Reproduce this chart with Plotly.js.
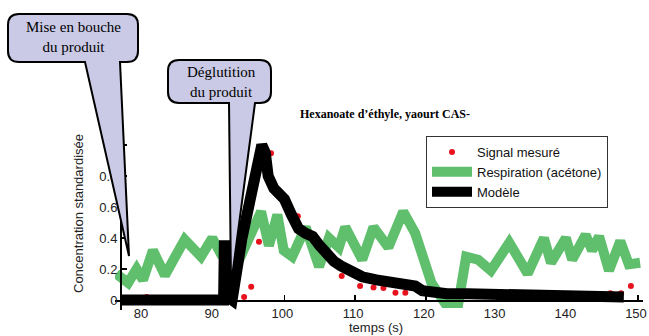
<!DOCTYPE html>
<html>
<head>
<meta charset="utf-8">
<script src="https://cdn.plot.ly/plotly-3.0.1.min.js"></script>
<style>html,body{margin:0;padding:0;background:#fff;}#chart{width:649px;height:336px;}</style>
</head>
<body>
<div id="chart"></div>
<script>
// ---- data ----
const signalX = [80.5, 94.3, 95.3, 96.4, 98.1, 101.9, 108.1, 110.7, 112.6, 114.0, 115.7, 117.1, 146.1, 147.6, 149.0];
const signalY = [0.02, 0.02, 0.086, 0.376, 0.946, 0.54, 0.155, 0.09, 0.08, 0.078, 0.047, 0.047, 0.043, 0.043, 0.09];

const respX = [76.2, 77.9, 79.1, 80.0, 81.4, 83.1, 85.9, 88.2, 89.8, 91.1, 93.4, 96.7, 97.8, 99.0, 99.9, 101.1, 103.0, 104.9, 106.3, 107.7, 108.6, 111.0, 112.6, 114.7, 116.8, 118.5, 120.8, 122.7, 124.6, 125.7, 127.4, 129.2, 131.8, 134.4, 136.7, 137.7, 139.8, 140.7, 142.6, 143.5, 144.5, 145.9, 147.5, 148.7, 150.3];
const respY = [0.17, 0.11, 0.20, 0.13, 0.32, 0.16, 0.39, 0.28, 0.40, 0.29, 0.24, 0.57, 0.35, 0.55, 0.32, 0.28, 0.47, 0.215, 0.40, 0.34, 0.47, 0.26, 0.47, 0.34, 0.57, 0.43, 0.11, -0.02, -0.02, 0.28, 0.26, 0.19, 0.37, 0.17, 0.40, 0.24, 0.40, 0.26, 0.42, 0.32, 0.41, 0.19, 0.38, 0.23, 0.24];

const modelX = [76.9, 91.4, 91.5, 91.8, 92.0, 92.6, 94.0, 95.5, 96.3, 96.8, 97.3, 97.7, 98.5, 100.0, 101.0, 102.0, 103.0, 104.0, 105.0, 106.0, 107.0, 108.0, 109.0, 110.0, 111.0, 113.0, 115.0, 117.0, 118.5, 119.5, 121.0, 123.0, 126.0, 130.0, 135.0, 140.0, 148.0];
const modelY = [0.0, 0.0, 0.35, 0.35, 0.02, 0.0, 0.4, 0.75, 0.97, 1.0, 0.95, 0.8, 0.72, 0.65, 0.55, 0.46, 0.43, 0.41, 0.35, 0.29, 0.25, 0.22, 0.2, 0.17, 0.15, 0.13, 0.12, 0.11, 0.09, 0.06, 0.045, 0.04, 0.04, 0.035, 0.03, 0.02, 0.02];

const xTicks = [80, 90, 100, 110, 120, 130, 140, 150];
const yTicks = [0, 0.2, 0.4, 0.6, 0.8, 1];
const chartTitle = "Hexanoate d\u2019éthyle, yaourt CAS-";
const bubble1Text = "Mise en bouche<br>du produit";
const bubble2Text = "Déglutition<br>du produit";

// ---- layout geometry (pixels -> paper) ----
const W = 649, H = 336;
const L = 115, R = 6, T = 136, B = 26;
const PW = W - L - R, PH = H - T - B;
const px = x => (x - L) / PW;
const py = y => (H - B - y) / PH;

function pathFrom(cmds) {
  return cmds.map(c => {
    const k = c[0];
    if (k === 'Z') return 'Z';
    let s = k;
    for (let i = 1; i < c.length; i += 2) {
      s += (i > 1 ? ' ' : '') + px(c[i]).toFixed(5) + ',' + py(c[i + 1]).toFixed(5);
    }
    return s;
  }).join(' ');
}
function bubble(x0, x1, y0, y1, r, tb0, tb1, tipX, tipY) {
  return pathFrom([
    ['M', x0 + r, y0], ['L', x1 - r, y0], ['Q', x1, y0, x1, y0 + r],
    ['L', x1, y1 - r], ['Q', x1, y1, x1 - r, y1],
    ['L', tb1, y1], ['L', tipX, tipY], ['L', tb0, y1],
    ['L', x0 + r, y1], ['Q', x0, y1, x0, y1 - r],
    ['L', x0, y0 + r], ['Q', x0, y0, x0 + r, y0], ['Z']
  ]);
}

const traces = [
  {
    x: respX, y: respY, mode: 'lines', name: 'Respiration (acétone)',
    line: {color: '#5fbf6c', width: 10}, legendrank: 2
  },
  {
    x: signalX, y: signalY, mode: 'markers', name: 'Signal mesuré',
    marker: {color: '#e8121c', size: 6}, legendrank: 1
  },
  {
    x: modelX, y: modelY, mode: 'lines', name: 'Modèle',
    line: {color: '#000000', width: 11}, legendrank: 3
  }
];

const axisFont = {family: 'Liberation Sans, Arial, sans-serif', size: 13, color: '#222'};

const layout = {
  width: W, height: H,
  margin: {l: L, r: R, t: T, b: B, pad: 0},
  paper_bgcolor: '#ffffff', plot_bgcolor: 'rgba(0,0,0,0)',
  showlegend: true,
  legend: {
    x: px(426), y: py(136), xanchor: 'left', yanchor: 'top',
    bordercolor: '#333', borderwidth: 1, bgcolor: 'rgba(255,255,255,0)',
    font: {family: 'Liberation Sans, Arial, sans-serif', size: 13, color: '#111'},
    traceorder: 'normal', itemwidth: 40
  },
  xaxis: {
    range: [76.04, 150.71], tickvals: xTicks, ticks: 'inside', ticklen: 5, tickwidth: 1.5,
    tickcolor: '#000', showline: true, linecolor: '#000', linewidth: 2,
    showgrid: false, zeroline: false, tickfont: axisFont, ticklabelshift: -2,
    anchor: 'free', position: py(301)
  },
  yaxis: {
    range: [-(310 - 300) / 155, (300 - 136) / 155], tickvals: yTicks, ticks: 'inside', ticklen: 5, tickwidth: 1.5,
    tickcolor: '#000', showline: true, linecolor: '#000', linewidth: 2,
    showgrid: false, zeroline: false, tickfont: axisFont,
    anchor: 'free', position: px(121)
  },
  shapes: [
    {type: 'path', xref: 'paper', yref: 'paper', layer: 'above',
     path: bubble(8, 138, 14, 62, 11, 85, 120, 129, 256),
     fillcolor: '#cacae6', line: {color: '#000', width: 2}},
    {type: 'path', xref: 'paper', yref: 'paper', layer: 'above',
     path: bubble(168, 271, 60, 103, 11, 229, 255, 231, 285),
     fillcolor: '#cacae6', line: {color: '#000', width: 2}}
  ],
  annotations: [
    {text: bubble1Text, xref: 'paper', yref: 'paper', x: px(73), y: py(37),
     xanchor: 'center', yanchor: 'middle', showarrow: false,
     font: {family: 'Liberation Serif, Times New Roman, serif', size: 15, color: '#000'}},
    {text: bubble2Text, xref: 'paper', yref: 'paper', x: px(221), y: py(82),
     xanchor: 'center', yanchor: 'middle', showarrow: false,
     font: {family: 'Liberation Serif, Times New Roman, serif', size: 15, color: '#000'}},
    {text: chartTitle, xref: 'paper', yref: 'paper', x: px(298), y: py(114),
     xanchor: 'left', yanchor: 'middle', showarrow: false,
     font: {family: 'Liberation Serif, Times New Roman, serif', size: 12, color: '#000', weight: 'bold'}},
    {text: 'temps (s)', xref: 'paper', yref: 'paper', x: px(376), y: py(327),
     xanchor: 'center', yanchor: 'middle', showarrow: false, font: axisFont},
    {text: 'Concentration standardisée', xref: 'paper', yref: 'paper', x: px(78), y: py(214),
     xanchor: 'center', yanchor: 'middle', showarrow: false, textangle: -90, font: axisFont}
  ]
};

Plotly.newPlot('chart', traces, layout, {displayModeBar: false, staticPlot: true});
</script>
</body>
</html>
